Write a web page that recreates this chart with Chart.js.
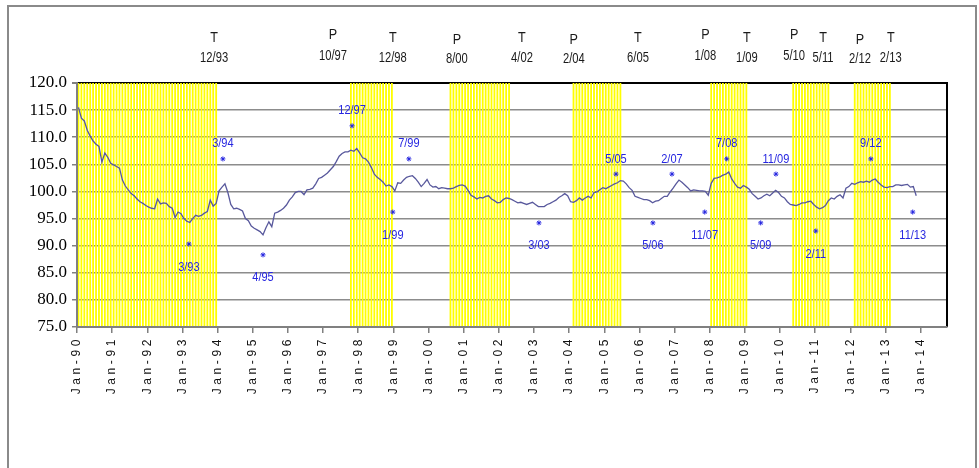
<!DOCTYPE html>
<html>
<head>
<meta charset="utf-8">
<title>Index with slowdown phases, 1990-2013</title>
<script src="https://cdn.jsdelivr.net/npm/chart.js@4/dist/chart.umd.min.js"></script>
<style>
  html, body { margin: 0; padding: 0; background: #fff; }
  canvas { display: block; }
</style>
</head>
<body>
<canvas id="chart" width="979" height="468"></canvas>
<script>
// Monthly index level, January 1990 to November 2013
const firstYear = 1990;
const indexValues = [
  115.5, 113.5, 113.0, 111.3, 110.2, 109.3, 108.7, 108.3, 105.4, 107.1, 106.3, 105.2, // 1990
  104.9, 104.6, 104.3, 102.1, 101.0, 100.3,  99.6,  99.2,  98.6,  98.1,  97.8,  97.4, // 1991
   97.1,  96.9,  96.8,  98.6,  97.7,  97.9,  97.8,  97.2,  96.9,  95.2,  96.2,  95.9, // 1992
   95.0,  94.5,  94.3,  95.0,  95.6,  95.4,  95.6,  96.0,  96.3,  98.4,  97.3,  97.8, // 1993
  100.1, 100.8, 101.4,  99.8,  97.6,  96.8,  96.9,  96.7,  96.4,  95.0,  94.6,  93.6, // 1994
   93.2,  92.9,  92.6,  92.0,  93.3,  94.4,  93.5,  96.0,  96.2,  96.5,  96.9,  97.5, // 1995
   98.4,  99.0,  99.8, 100.0, 100.0,  99.4, 100.3, 100.4, 100.6, 101.4, 102.4, 102.6, // 1996
  103.0, 103.4, 104.0, 104.6, 105.5, 106.5, 107.0, 107.3, 107.3, 107.6, 107.4, 107.9, // 1997
  107.1, 106.2, 106.0, 105.4, 104.4, 103.2, 102.6, 102.2, 101.7, 101.0, 101.2, 100.9, // 1998
  100.1, 101.6, 101.5, 102.1, 102.6, 102.8, 102.9, 102.4, 101.7, 100.9, 101.5, 102.2, // 1999
  101.2, 100.8, 100.9, 100.5, 100.7, 100.6, 100.5, 100.5, 100.6, 100.9, 101.1, 101.2, // 2000
  101.0, 100.2,  99.3,  99.0,  98.6,  98.9,  98.8,  99.1,  99.2,  98.6,  98.3,  97.9, // 2001
   98.0,  98.5,  98.8,  98.7,  98.5,  98.2,  97.9,  98.0,  97.8,  97.6,  97.8,  98.0, // 2002
   97.6,  97.2,  97.2,  97.2,  97.6,  97.8,  98.1,  98.4,  98.9,  99.2,  99.6,  99.2, // 2003
   98.1,  98.0,  98.3,  98.8,  98.4,  98.8,  99.1,  98.8,  99.8,  99.9, 100.3, 100.7, // 2004
  100.5, 100.8, 101.1, 101.4, 101.6, 102.0, 101.9, 101.4, 100.7, 100.2,  99.1,  98.9, // 2005
   98.7,  98.5,  98.5,  98.3,  97.9,  98.2,  98.3,  98.7,  99.1,  99.1,  99.9, 100.6, // 2006
  101.4, 102.1, 101.7, 101.2, 100.7, 100.1, 100.3, 100.2, 100.1, 100.1, 100.0,  99.3, // 2007
  101.5, 102.4, 102.5, 102.7, 103.0, 103.2, 103.6, 102.3, 101.5, 100.8, 100.6, 101.1, // 2008
  100.8, 100.4,  99.6,  99.1,  98.6,  98.8,  99.2,  99.5,  99.2,  99.7, 100.2,  99.8, // 2009
   99.1,  98.8,  98.1,  97.6,  97.5,  97.4,  97.6,  97.9,  97.9,  98.1,  98.2,  97.6, // 2010
   97.1,  96.8,  97.0,  97.4,  98.3,  98.8,  98.6,  99.1,  99.4,  98.8, 100.6, 100.9, // 2011
  101.5, 101.3, 101.6, 101.8, 101.7, 101.9, 101.7, 102.1, 102.3, 101.7, 101.2, 100.8, // 2012
  100.7, 100.9, 100.9, 101.2, 101.2, 101.1, 101.2, 101.3, 100.8, 100.9,  99.2          // 2013
];

// Value axis range and the labels under each January
const valueRange = [75, 120];
const valueStep = 5;
const yearLabels = [
  'Jan-90', 'Jan-91', 'Jan-92', 'Jan-93', 'Jan-94', 'Jan-95', 'Jan-96', 'Jan-97',
  'Jan-98', 'Jan-99', 'Jan-00', 'Jan-01', 'Jan-02', 'Jan-03', 'Jan-04', 'Jan-05',
  'Jan-06', 'Jan-07', 'Jan-08', 'Jan-09', 'Jan-10', 'Jan-11', 'Jan-12', 'Jan-13', 'Jan-14'
];
const axisMonths = 297; // months spanned by the time axis

// Cycle turning points (P = peak, T = trough) shown above the plot
const turnKinds = ['T', 'P', 'T', 'P', 'T', 'P', 'T', 'P', 'T', 'P', 'T', 'P', 'T'];
const turnDates = ['12/93', '10/97', '12/98', '8/00', '4/02', '2/04', '6/05', '1/08', '1/09', '5/10', '5/11', '2/12', '2/13'];
// caption position along the time axis, in months from Jan-90
const turnCaptionAt = [46.8, 87.4, 107.8, 129.7, 151.9, 169.6, 191.5, 214.5, 228.7, 244.8, 254.7, 267.3, 277.8];
// small vertical nudge of each caption (px)
const turnCaptionNudge = [0, -3, 0, 2, 0, 2, 0, -3, 0, -3, 0, 2, 0];

// Peak-to-trough phases shaded in yellow
const phaseStart = ['1/90', '10/97', '8/00', '2/04', '1/08', '5/10', '2/12'];
const phaseEnd = ['12/93', '12/98', '4/02', '6/05', '1/09', '5/11', '2/13'];

// Local highs and lows, marked with a star and their date
const markDates = ['3/93', '3/94', '4/95', '12/97', '1/99', '7/99', '3/03', '5/05', '5/06',
                   '2/07', '11/07', '7/08', '5/09', '11/09', '2/11', '9/12', '11/13'];
const markAt = [38.2, 49.8, 63.5, 93.9, 107.8, 113.3, 157.7, 184.0, 196.6,
                203.1, 214.3, 221.8, 233.4, 238.6, 252.2, 271.0, 285.3];
const markLevel = [90.3, 106.0, 88.3, 112.1, 96.2, 106.0, 94.2, 103.2, 94.2,
                   103.2, 96.2, 106.0, 94.2, 103.2, 92.7, 106.0, 96.2];
const markCaptionBelow = [true, false, true, false, true, false, true, false, true,
                          false, true, false, true, false, true, false, true];

// ---- derived series ----
const monthIndex = s => {
  const [m, yy] = s.split('/').map(Number);
  const year = yy >= 90 ? 1900 + yy : 2000 + yy;
  return (year - firstYear) * 12 + (m - 1);
};

const linePoints = indexValues.map((v, i) => ({ x: i + 0.5, y: v }));

const phaseBars = [];
phaseStart.forEach((s, k) => {
  for (let m = monthIndex(s); m <= monthIndex(phaseEnd[k]); m++) {
    phaseBars.push({ x: m + 0.5, y: valueRange[1] });
  }
});

const markPoints = markAt.map((x, k) => ({ x: x, y: markLevel[k] }));

const BLUE = '#2626e0';

function scaledText(ctx, text, x, y, sx) {
  ctx.save();
  ctx.translate(x, y);
  ctx.scale(sx, 1);
  ctx.fillText(text, 0, 0);
  ctx.restore();
}

const decorations = {
  id: 'decorations',
  beforeDraw(chart) {
    const ctx = chart.ctx;
    ctx.save();
    ctx.fillStyle = '#ffffff';
    ctx.fillRect(0, 0, chart.width, chart.height);
    ctx.strokeStyle = '#8a8a8a';
    ctx.lineWidth = 2;
    ctx.strokeRect(8, 6, chart.width - 11, chart.height + 20);
    ctx.restore();
  },
  beforeDatasetsDraw(chart) {
    // right edge of the plot frame
    const { ctx, chartArea: a } = chart;
    ctx.save();
    ctx.strokeStyle = '#000';
    ctx.lineWidth = 2;
    ctx.beginPath();
    ctx.moveTo(a.right, a.top - 1);
    ctx.lineTo(a.right, a.bottom);
    ctx.stroke();
    ctx.restore();
  },
  afterDatasetsDraw(chart) {
    // widely spaced lettering for the month labels drawn next
    chart.ctx.letterSpacing = '3.6px';
  },
  afterDraw(chart) {
    const ctx = chart.ctx;
    ctx.letterSpacing = '0px';
    const xs = chart.scales.x, ys = chart.scales.y;

    ctx.save();
    ctx.textAlign = 'center';
    ctx.textBaseline = 'middle';

    // turning points above the plot
    ctx.fillStyle = '#1a1a1a';
    ctx.font = '14px "Liberation Sans", Arial, sans-serif';
    turnKinds.forEach((kind, k) => {
      const x = xs.getPixelForValue(turnCaptionAt[k]);
      const top = chart.chartArea.top;
      scaledText(ctx, kind, x, top - 45 + turnCaptionNudge[k], 0.9);
      scaledText(ctx, turnDates[k], x, top - 25 + turnCaptionNudge[k] * 0.6, 0.8);
    });

    // dates of local highs and lows
    ctx.fillStyle = BLUE;
    ctx.font = '13px "Liberation Sans", Arial, sans-serif';
    markDates.forEach((d, k) => {
      const x = xs.getPixelForValue(markAt[k]);
      const y = ys.getPixelForValue(markLevel[k]);
      scaledText(ctx, d, x, markCaptionBelow[k] ? y + 23 : y - 15, 0.85);
    });
    ctx.restore();
  }
};

new Chart(document.getElementById('chart'), {
  type: 'bar',
  data: {
    datasets: [
      {
        type: 'scatter',
        data: markPoints,
        pointStyle: 'star',
        pointRadius: 2.5,
        borderColor: BLUE,
        backgroundColor: BLUE,
        borderWidth: 1,
        order: 0
      },
      {
        type: 'line',
        data: linePoints,
        borderColor: '#58589c',
        borderWidth: 1.3,
        pointRadius: 0,
        tension: 0,
        fill: false,
        order: 1
      },
      {
        type: 'bar',
        data: phaseBars,
        base: valueRange[0],
        backgroundColor: '#ffff00',
        borderWidth: 0,
        barPercentage: 0.62,
        categoryPercentage: 1,
        order: 2
      }
    ]
  },
  options: {
    responsive: false,
    animation: false,
    events: [],
    layout: { padding: { left: 0, top: 83, right: 32, bottom: 0 } },
    plugins: { legend: { display: false }, tooltip: { enabled: false } },
    scales: {
      x: {
        type: 'linear',
        min: 0,
        max: axisMonths,
        offset: false,
        afterBuildTicks: s => { s.ticks = yearLabels.map((_, k) => ({ value: k * 12 })); },
        afterFit: s => { s.height = 141; },
        ticks: {
          autoSkip: false,
          minRotation: 90,
          maxRotation: 90,
          padding: 3,
          z: 1,
          color: '#111',
          font: { family: '"Liberation Sans", Arial, sans-serif', size: 12 },
          callback: (v, i) => yearLabels[i]
        },
        grid: {
          offset: false,
          drawOnChartArea: false,
          drawTicks: true,
          tickLength: 6,
          color: '#808080',
          lineWidth: 1.5
        },
        border: { display: true, color: '#808080', width: 2, z: 1 }
      },
      y: {
        min: valueRange[0],
        max: valueRange[1],
        beginAtZero: false,
        afterFit: s => { s.width = 77; },
        ticks: {
          stepSize: valueStep,
          padding: 5,
          color: '#000',
          font: { family: '"Liberation Serif", "Times New Roman", serif', size: 17 },
          callback: v => Number(v).toFixed(1)
        },
        grid: {
          color: c => (c.tick && c.tick.value === valueRange[1]) ? '#000' : '#8c8c8c',
          lineWidth: c => (c.tick && c.tick.value === valueRange[1]) ? 2 : 1.5,
          tickColor: '#808080',
          tickLength: 5,
          drawTicks: true
        },
        border: { display: true, color: '#808080', width: 2, z: 1 }
      }
    }
  },
  plugins: [decorations]
});
</script>
</body>
</html>
